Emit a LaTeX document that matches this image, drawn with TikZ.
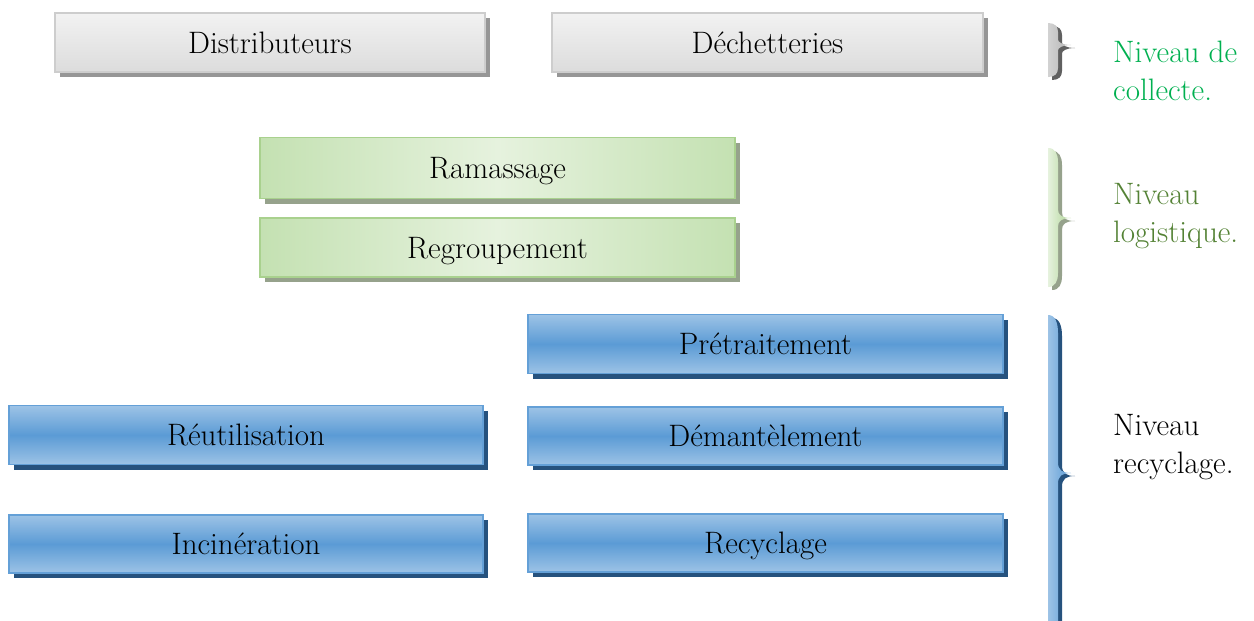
\documentclass[tikz,border=0pt]{standalone}
\usepackage{fontspec}
\usetikzlibrary{shadows}
\definecolor{grayL}{RGB}{242,242,242}
\definecolor{grayM}{RGB}{220,220,220}
\definecolor{grayB}{RGB}{205,205,205}
\definecolor{grayS}{RGB}{150,150,150}
\definecolor{greenL}{RGB}{230,242,222}
\definecolor{greenM}{RGB}{196,225,178}
\definecolor{greenB}{RGB}{169,209,142}
\definecolor{greenBr}{RGB}{175,212,150}
\definecolor{greenS}{RGB}{150,162,140}
\definecolor{blueL}{RGB}{157,195,230}
\definecolor{blueM}{RGB}{91,155,213}
\definecolor{blueB}{RGB}{100,160,215}
\definecolor{blueS}{RGB}{38,82,126}
\definecolor{txtgreen}{RGB}{0,176,80}
\definecolor{txtolive}{RGB}{84,130,53}
\newcommand\mybrace[4]{(1048,#1) .. controls (1055,#1) and (1058,#1+#4*0.4) .. (1058,#1+#4) -- (1058,#2-#4*0.6) .. controls (1058,#2-3) and (1062,#2) .. (1071,#2) .. controls (1062,#2) and (1058,#2+3) .. (1058,#2+#4*0.6) -- (1058,#3-#4) .. controls (1058,#3-#4*0.4) and (1055,#3) .. (1048,#3) -- cycle}
\tikzset{
  every node/.style={font=\rmfamily\fontsize{31}{37.5}\selectfont},
  boxbase/.style={rectangle, draw, line width=1.5pt, inner sep=0pt, text=black, text height=21pt, text depth=0pt},
  graybox/.style={boxbase, draw=grayB, top color=grayL, bottom color=grayM,
    drop shadow={shadow xshift=5pt, shadow yshift=-5pt, fill=grayS, opacity=1}},
  greenbox/.style={boxbase, draw=greenB, left color=greenM, right color=greenM, middle color=greenL,
    drop shadow={shadow xshift=5pt, shadow yshift=-5pt, fill=greenS, opacity=1}},
  bluebox/.style={boxbase, draw=blueB, top color=blueL, bottom color=blueL, middle color=blueM,
    drop shadow={shadow xshift=5pt, shadow yshift=-5pt, fill=blueS, opacity=1}},
  lbl/.style={anchor=base west, align=left, inner sep=0pt}
}
\begin{document}
\begin{tikzpicture}[x=1pt,y=-1pt]
\useasboundingbox (0,0) rectangle (1254,621);
\clip (0,0) rectangle (1254,621);
% collecte
\node[graybox, minimum width=430, minimum height=59] (dist) at (270,42.5) {Distributeurs};
\node[graybox, minimum width=431, minimum height=59] (dech) at (767.5,42.5) {Déchetteries};
% logistique
\node[greenbox, minimum width=475, minimum height=61] (ram) at (497.5,168) {Ramassage};
\node[greenbox, minimum width=475, minimum height=59] (regr) at (497.5,247.5) {Regroupement};
% recyclage
\node[bluebox, minimum width=475, minimum height=59] (pret) at (765.5,344) {Prétraitement};
\node[bluebox, minimum width=475, minimum height=58] (dem) at (765.5,436) {Démantèlement};
\node[bluebox, minimum width=475, minimum height=58] (recy) at (765.5,543) {Recyclage};
\node[bluebox, minimum width=474, minimum height=59] (reut) at (246,435) {Réutilisation};
\node[bluebox, minimum width=474, minimum height=58] (inci) at (246,544) {Incinération};
% braces
\begin{scope}[shift={(4,3)}]
  \fill[gray!75!black] \mybrace{23}{45}{77}{9};
  \fill[greenS] \mybrace{148}{218}{287}{14};
  \fill[blueS] \mybrace{315}{473}{640}{18};
\end{scope}
\shade[left color=gray!35, right color=gray!60] \mybrace{23}{45}{77}{9};
\shade[left color=greenL, right color=greenBr] \mybrace{148}{218}{287}{14};
\shade[left color=blueL, right color=blueM] \mybrace{315}{473}{640}{18};
% labels
\node[lbl, text=txtgreen] (lcol) at (1113,100) {Niveau de\\collecte.};
\node[lbl, text=txtolive] (llog) at (1113,242) {Niveau\\logistique.};
\node[lbl, text=black] (lrec) at (1113,473) {Niveau\\recyclage.};
\end{tikzpicture}
\end{document}
